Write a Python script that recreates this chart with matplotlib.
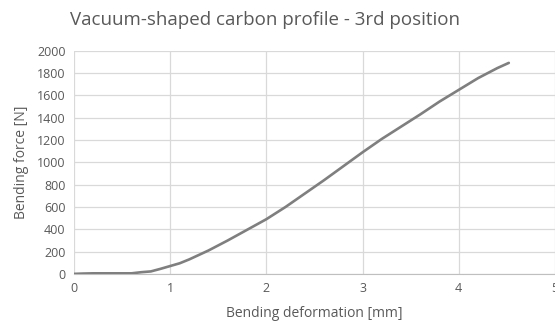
import numpy as np
import matplotlib
matplotlib.use('Agg')
import matplotlib.pyplot as plt

# Bending test data
deformation = [0.0, 0.1, 0.2, 0.3, 0.4, 0.5, 0.6, 0.7, 0.8, 0.9, 1.0, 1.1, 1.2,
               1.4, 1.6, 1.8, 2.0, 2.2, 2.4, 2.6, 2.8, 3.0, 3.2, 3.4, 3.6,
               3.8, 4.0, 4.2, 4.4, 4.52]
force = [0, 3, 5, 5, 5, 5, 5, 15, 22, 45, 70, 95, 130,
         210, 300, 395, 490, 600, 720, 840, 965, 1090, 1210, 1320, 1430,
         1545, 1650, 1755, 1845, 1892]

xticks = [0, 1, 2, 3, 4, 5]
yticks = list(range(0, 2001, 200))

txt = '#595959'
plt.rcParams['font.family'] = ['Open Sans', 'DejaVu Sans']

fig = plt.figure(figsize=(5.55, 3.28), dpi=100)
ax = fig.add_axes([0.133, 0.165, 0.867, 0.68])

ax.plot(deformation, force, color='#7f7f7f', linewidth=1.9, zorder=3,
        solid_capstyle='round')

ax.set_xlim(0, 5)
ax.set_ylim(0, 2000)
ax.set_xticks(xticks)
ax.set_yticks(yticks)
ax.grid(True, color='#d9d9d9', linewidth=0.9)
for s in ['top', 'right', 'left']:
    ax.spines[s].set_visible(False)
ax.spines['bottom'].set_color('#bfbfbf')
ax.tick_params(length=0, labelsize=9, colors=txt, pad=6)

ax.set_xlabel('Bending deformation [mm]', fontsize=10, color=txt, labelpad=8)
ax.set_ylabel('Bending force [N]', fontsize=10, color=txt, labelpad=6)
fig.text(0.477, 0.94, 'Vacuum-shaped carbon profile - 3rd position',
         ha='center', va='center', fontsize=13.5, color=txt)

fig.savefig('out.png', dpi=100)
